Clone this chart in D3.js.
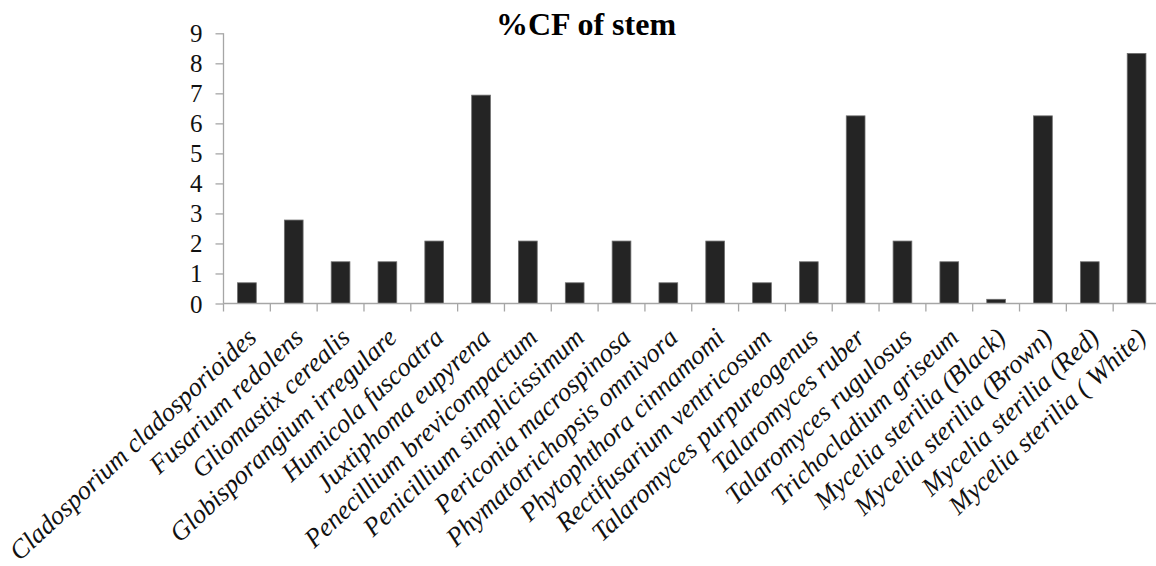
<!DOCTYPE html>
<html>
<head>
<meta charset="utf-8">
<script src="https://cdn.jsdelivr.net/npm/d3@7"></script>
<style>
  html, body { margin: 0; padding: 0; background: #fff; overflow: hidden; }
  text { font-family: "Liberation Serif", "Times New Roman", serif; }
</style>
</head>
<body>
<svg id="chart" width="1156" height="566"></svg>
<script>
const title = "%CF of stem";
const categories = [
  "Cladosporium cladosporioides",
  "Fusarium redolens",
  "Gliomastix cerealis",
  "Globisporangium irregulare",
  "Humicola fuscoatra",
  "Juxtiphoma eupyrena",
  "Penecillium brevicompactum",
  "Penicillium simplicissimum",
  "Periconia macrospinosa",
  "Phymatotrichopsis omnivora",
  "Phytophthora cinnamomi",
  "Rectifusarium ventricosum",
  "Talaromyces purpureogenus",
  "Talaromyces ruber",
  "Talaromyces rugulosus",
  "Trichocladium griseum",
  "Mycelia sterilia (Black)",
  "Mycelia sterilia (Brown)",
  "Mycelia sterilia (Red)",
  "Mycelia sterilia ( White)"
];
const values = [0.69, 2.78, 1.39, 1.39, 2.08, 6.94, 2.08, 0.69, 2.08, 0.69,
                2.08, 0.69, 1.39, 6.25, 2.08, 1.39, 0.14, 6.25, 1.39, 8.33];
const yTicks = [0, 1, 2, 3, 4, 5, 6, 7, 8, 9];

(function () {
const svg = d3.select("#chart");
const pLeft = 223.5, pRight = 1160, pTop = 33.3, pBottom = 303.5;
const axisColor = "#a6a6a6";

const x = d3.scaleBand().domain(categories).range([pLeft, pRight])
  .paddingInner(0.6).paddingOuter(0.3);
const y = d3.scaleLinear().domain([0, 9]).range([pBottom, pTop]);

// bars
svg.append("g").selectAll("rect").data(values).join("rect")
  .attr("x", (d, i) => x(categories[i]))
  .attr("y", d => y(d))
  .attr("width", x.bandwidth())
  .attr("height", d => y(0) - y(d))
  .attr("fill", "#242424")
  .attr("stroke", "#6e6e6e")
  .attr("stroke-width", 0.8);

// y axis
const yAxis = d3.axisLeft(y).tickValues(yTicks).tickSize(8).tickPadding(13)
  .tickFormat(d3.format("d"));
const gy = svg.append("g").attr("transform", `translate(${pLeft},0)`).call(yAxis);
gy.attr("font-family", null);
gy.select(".domain").attr("stroke", axisColor).attr("stroke-width", 1.3)
  .attr("d", `M0,${pTop}V${pBottom}`);
gy.selectAll(".tick line").attr("stroke", axisColor).attr("stroke-width", 1.3);
gy.selectAll(".tick text").attr("fill", "#111").style("font-size", "25px")
  .style("font-family", "'Liberation Serif', 'Times New Roman', serif").attr("dy", "0.34em");

// x axis line and boundary ticks
const step = x.step();
const gx = svg.append("g");
gx.append("line").attr("x1", pLeft).attr("x2", pRight).attr("y1", pBottom).attr("y2", pBottom)
  .attr("stroke", axisColor).attr("stroke-width", 1.3);
const bounds = categories.map(c => x(c) + x.bandwidth() / 2 - step / 2);
bounds.push(x(categories[categories.length - 1]) + x.bandwidth() / 2 + step / 2);
gx.selectAll("line.tk").data(bounds).join("line").attr("class", "tk")
  .attr("x1", d => d).attr("x2", d => d).attr("y1", pBottom).attr("y2", pBottom + 8)
  .attr("stroke", axisColor).attr("stroke-width", 1.3);

// x labels
const labels = gx.selectAll("text.lbl").data(categories).join("text").attr("class", "lbl")
  .attr("text-anchor", "end")
  .style("font-size", "26px").style("font-style", "italic")
  .attr("fill", "#111")
  .text(c => c);
// fit font so the longest first label spans ~326px like the reference
const len0 = labels.node().getComputedTextLength();
const fs = len0 > 0 ? Math.min(27, 26 * 326 / len0) : 26;
labels.style("font-size", fs + "px")
  .attr("transform", c => `translate(${x(c) + x.bandwidth() / 2 + 11},${pBottom + 36}) rotate(-43)`);

// title
svg.append("text").attr("x", 586).attr("y", 35).attr("text-anchor", "middle")
  .style("font-size", "32px").style("font-weight", "bold").attr("fill", "#000")
  .text(title);
})();
</script>
</body>
</html>
